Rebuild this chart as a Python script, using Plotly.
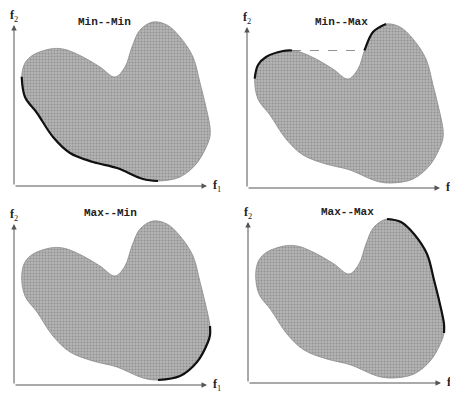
import plotly.graph_objects as go

# Outline of the feasible region (f1, f2), same shape in each panel
blob_f1 = [7.7, 11, 19, 36, 45, 53, 69, 86, 101, 111, 118, 126, 139, 153, 166, 179, 186, 191, 196, 196, 194, 183, 166, 144, 129, 103, 79, 56, 39, 23, 11, 7.7]
blob_f2 = [109.3, 123, 131, 137, 137.5, 136, 129, 119, 109, 119, 139, 156, 164, 161, 149, 129, 103, 83, 59, 50, 43, 23, 9, 5, 7, 18, 24, 33, 49, 73, 89, 109.3]

# Pareto fronts per panel (list of segments)
minmin_f1 = [144, 129, 103, 79, 56, 39, 23, 11, 7.7]
minmin_f2 = [5, 7, 18, 24, 33, 49, 73, 89, 109.3]

minmax_a_f1 = [7.7, 11, 19, 36, 45]
minmax_a_f2 = [109.3, 123, 131, 137, 137.5]
minmax_b_f1 = [117.4, 118, 126, 139]
minmax_b_f2 = [137.5, 139, 156, 164]
minmax_gap_f1 = [45, 117.4]
minmax_gap_f2 = [137.5, 137.5]

maxmin_f1 = [196, 196, 194, 183, 166, 144]
maxmin_f2 = [59, 50, 43, 23, 9, 5]

maxmax_f1 = [139, 153, 166, 179, 186, 191, 196, 196]
maxmax_f2 = [164, 161, 149, 129, 103, 83, 59, 50]

titles = ["Min--Min", "Min--Max", "Max--Min", "Max--Max"]

W, H = 450, 393
AX_W, AX_H = 193, 161
X_RANGE = [-6, 200]
Y_RANGE = [-6, 170]
# pixel origins of each panel's axes
origins = [(14, 186), (247, 188), (14, 385), (248, 383)]
title_pos = [(104, 22), (341, 22), (110, 213), (347, 212)]

fig = go.Figure()
layout = {}
fronts = [
    [(minmin_f1, minmin_f2)],
    [(minmax_a_f1, minmax_a_f2), (minmax_b_f1, minmax_b_f2)],
    [(maxmin_f1, maxmin_f2)],
    [(maxmax_f1, maxmax_f2)],
]
annotations = []
for i, (ox, oy) in enumerate(origins):
    n = "" if i == 0 else str(i + 1)
    xa, ya = "x" + n, "y" + n
    layout["xaxis" + n] = dict(domain=[(ox + X_RANGE[0]) / W, (ox + X_RANGE[1]) / W],
                               range=X_RANGE, visible=False, fixedrange=True)
    layout["yaxis" + n] = dict(domain=[(H - (oy - Y_RANGE[0])) / H, (H - (oy - Y_RANGE[1])) / H],
                               range=Y_RANGE, visible=False, fixedrange=True)
    fig.add_trace(go.Scatter(
        x=blob_f1, y=blob_f2, xaxis=xa, yaxis=ya, mode="lines",
        line=dict(shape="spline", smoothing=1.0, color="#8a8a8a", width=0.8),
        fill="toself", fillcolor="#a8a8a8",
        fillpattern=dict(shape=".", fgcolor="#6e6e6e", bgcolor="#b4b4b4", size=3, solidity=0.35),
        hoverinfo="skip", showlegend=False))
    for fx, fy in fronts[i]:
        fig.add_trace(go.Scatter(
            x=fx, y=fy, xaxis=xa, yaxis=ya, mode="lines",
            line=dict(shape="spline", smoothing=1.0, color="#111111", width=2.2),
            hoverinfo="skip", showlegend=False))
    if i == 1:
        fig.add_trace(go.Scatter(
            x=minmax_gap_f1, y=minmax_gap_f2, xaxis=xa, yaxis=ya, mode="lines",
            line=dict(color="#777777", width=0.8, dash="dash"),
            hoverinfo="skip", showlegend=False))
    # axes arrows
    for (hx, hy) in [(AX_W, 0), (0, AX_H)]:
        annotations.append(dict(x=hx, y=hy, ax=0, ay=0, xref=xa, yref=ya, axref=xa, ayref=ya,
                                text="", showarrow=True, arrowhead=2, arrowsize=1.1,
                                arrowwidth=1, arrowcolor="#555555"))
    # axis labels
    annotations.append(dict(x=ox / W, y=1 - (oy - AX_H - 9) / H, xref="paper", yref="paper",
                            text="<b>f</b><sub>2</sub>", showarrow=False, xanchor="center", yanchor="middle",
                            font=dict(family="Liberation Serif", size=12, color="#222")))
    annotations.append(dict(x=(ox + AX_W + 4) / W, y=1 - oy / H, xref="paper", yref="paper",
                            text="<b>f</b><sub>1</sub>", showarrow=False, xanchor="left", yanchor="middle",
                            font=dict(family="Liberation Serif", size=12, color="#222")))
    tx, ty = title_pos[i]
    annotations.append(dict(x=tx / W, y=1 - ty / H, xref="paper", yref="paper",
                            text="<b>" + titles[i] + "</b>", showarrow=False,
                            xanchor="center", yanchor="middle",
                            font=dict(family="Liberation Mono", size=11, color="#222")))

fig.update_layout(**layout)
fig.update_layout(width=W, height=H, margin=dict(l=0, r=0, t=0, b=0),
                  paper_bgcolor="white", plot_bgcolor="white",
                  annotations=annotations, showlegend=False)
fig.write_html("out.html", config={"displayModeBar": False},
               post_script="document.body.style.margin='0';document.body.style.overflow='hidden';")
